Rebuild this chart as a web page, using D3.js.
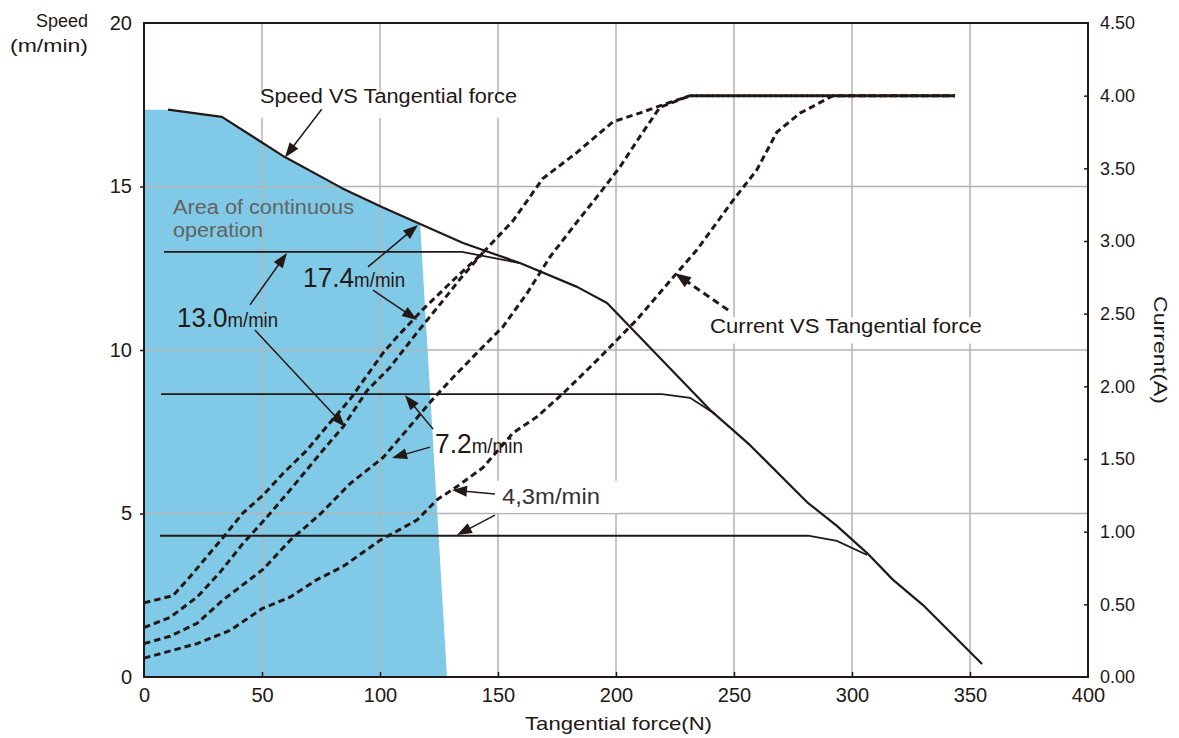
<!DOCTYPE html>
<html><head><meta charset="utf-8">
<script src="https://cdn.jsdelivr.net/npm/d3@7"></script>
<style>body{margin:0;background:#fff}svg{display:block}</style>
</head><body>
<svg id="c" width="1179" height="738"></svg>
<script>
const INK = "#231815";
const FONT = "'Liberation Sans', Arial, sans-serif";

// ---- axis ticks ----
const forceTicks = [0, 50, 100, 150, 200, 250, 300, 350, 400];
const speedTicks = [0, 5, 10, 15, 20];
const currentTicks = [0, 0.5, 1, 1.5, 2, 2.5, 3, 3.5, 4, 4.5];
const forceGrid = [50, 100, 150, 200, 250, 300, 350];
const speedGrid = [5, 10, 15];

// ---- speed vs tangential force (force N, speed m/min) ----
const speedCurve = [[10.2,17.35],[33,17.13],[59.7,15.9],[83.9,14.95],[100.8,14.37],[117,13.85],[135.2,13.27],[159.3,12.66],[183.5,11.93],[196.2,11.44],[239.8,8.17],[249.6,7.55],[256.8,7.09],[280.9,5.35],[293.6,4.62],[306.4,3.79],[317.4,2.97],[330.1,2.2],[355.1,0.4]];
const speed13 = [[8.5,13.0],[134.7,13.0],[159.3,12.66]];
const speed87 = [[7.2,8.65],[219.5,8.65],[231.4,8.54],[242,8.04]];
const speed43 = [[6.8,4.32],[281.4,4.32],[293.6,4.16],[306.4,3.73]];
const continuousArea = [[0,17.35],[10.2,17.35],[33,17.13],[59.7,15.9],[83.9,14.95],[100.8,14.37],[117,13.85],[128.4,0],[0,0]];

// ---- current vs tangential force (force N, current A) ----
const current174 = [[0,0.51],[12.3,0.56],[19.5,0.69],[33.5,0.96],[42,1.13],[50.4,1.25],[58.9,1.40],[69,1.56],[78.8,1.75],[87.3,1.91],[101.3,2.23],[107.2,2.34],[118.2,2.53],[131,2.73],[143.6,2.92],[156.4,3.14],[169,3.43],[183.5,3.61],[198.7,3.82],[210,3.88],[218.6,3.93],[231.4,4.0],[343.6,4.0]];
const current130 = [[0,0.34],[11,0.41],[22.5,0.55],[32.2,0.72],[42,0.92],[52.1,1.10],[63.1,1.31],[75.8,1.56],[84.3,1.72],[94.5,1.97],[104.2,2.13],[115.7,2.37],[126.7,2.59],[134,2.74],[143.6,2.92]];
const current72 = [[0,0.23],[11,0.28],[22.5,0.37],[33.5,0.53],[50.4,0.74],[61.9,0.94],[74.6,1.12],[87.3,1.33],[101.3,1.51],[111.4,1.70],[121.2,1.89],[129.7,2.04],[141.1,2.23],[152.1,2.41],[162.3,2.64],[172,2.89],[183.9,3.14],[193.2,3.33],[201.7,3.51],[210.2,3.72],[218.6,3.92],[231.4,4.0],[343.6,4.0]];
const current43 = [[0,0.13],[8,0.165],[22.5,0.23],[36.4,0.32],[50,0.47],[61.9,0.55],[73.3,0.67],[84.3,0.76],[100,0.94],[115.7,1.08],[124.2,1.22],[132.6,1.31],[143.6,1.44],[156.4,1.68],[166.5,1.79],[177.5,1.95],[192,2.18],[208.9,2.46],[225.8,2.78],[234.3,2.94],[249.6,3.28],[259.7,3.49],[268.2,3.75],[278,3.88],[292,4.0],[343.6,4.0]];

// ---- annotations (positions in force / speed units) ----
const arrows = [
  [[75.3,17.36],[59.7,15.89]],
  [[94.9,12.54],[116.1,13.82]],
  [[97.0,11.83],[115.7,10.92]],
  [[44.9,11.38],[60.6,12.97]],
  [[47.0,10.61],[85.2,7.65]],
  [[122.5,7.58],[110.6,8.62]],
  [[121.2,7.03],[105.1,6.70]],
  [[148.7,5.60],[130.5,5.72]],
  [[148.7,4.95],[132.6,4.34]]
];
const dashedArrows = [[[247.5,11.22],[225,12.35]]];
const speedLabels = [
  {num:"17.4", unit:"m/min", f:67.4, s:11.93, w:102},
  {num:"13.0", unit:"m/min", f:14.0, s:10.70, w:101},
  {num:"7.2",  unit:"m/min", f:123.3, s:6.85, w:88}
];

const svg = d3.select("#c");
const x = d3.scaleLinear().domain([0, 400]).range([144, 1088]);
const yS = d3.scaleLinear().domain([0, 20]).range([677, 23]);
const yC = d3.scaleLinear().domain([0, 4.5]).range([677, 23]);

// continuous area
svg.append("path").datum(continuousArea)
  .attr("d", d3.line().x(d => x(d[0])).y(d => yS(d[1])))
  .attr("fill", "#80cae7");

// grid
svg.append("g").selectAll("line").data(forceGrid).join("line")
  .attr("x1", d => x(d)).attr("x2", d => x(d)).attr("y1", yS(0)).attr("y2", yS(20))
  .attr("stroke", "#b2b4b4").attr("stroke-width", 1.5);
svg.append("g").selectAll("line").data(speedGrid).join("line")
  .attr("x1", x(0)).attr("x2", x(400)).attr("y1", d => yS(d)).attr("y2", d => yS(d))
  .attr("stroke", "#b2b4b4").attr("stroke-width", 1.5);

// label backgrounds
function bg(x0, y0, x1, y1) {
  svg.append("rect").attr("x", x0).attr("y", y0).attr("width", x1 - x0).attr("height", y1 - y0).attr("fill", "#fff");
}
bg(x(47.9), yS(17.85), x(159.3), yS(17.1));
bg(x(238), yS(11.0), x(357), yS(10.2));
bg(x(149.5), yS(6.0), x(201.7), yS(5.02));

// speed lines
const lineS = d3.line().x(d => x(d[0])).y(d => yS(d[1]));
svg.append("path").datum(speedCurve).attr("d", lineS).attr("fill", "none").attr("stroke", INK).attr("stroke-width", 2.2).attr("stroke-linejoin", "round");
[speed13, speed87, speed43].forEach(s =>
  svg.append("path").datum(s).attr("d", lineS).attr("fill", "none").attr("stroke", INK).attr("stroke-width", 1.8));

// current curves
const lineC = d3.line().x(d => x(d[0])).y(d => yC(d[1]));
[current174, current130, current72, current43].forEach(c =>
  svg.append("path").datum(c).attr("d", lineC).attr("fill", "none").attr("stroke", INK)
    .attr("stroke-width", 3).attr("stroke-dasharray", "6.5,4"));

// arrows
function arrow(a, dashed) {
  const x1 = x(a[0][0]), y1 = yS(a[0][1]), x2 = x(a[1][0]), y2 = yS(a[1][1]);
  const dx = x2 - x1, dy = y2 - y1, L = Math.hypot(dx, dy), ux = dx / L, uy = dy / L;
  const hl = dashed ? 16 : 15, hw = dashed ? 6 : 5.5;
  const bx = x2 - ux * hl, by = y2 - uy * hl;
  svg.append("line").attr("x1", x1).attr("y1", y1).attr("x2", bx + ux * 2).attr("y2", by + uy * 2)
    .attr("stroke", INK).attr("stroke-width", dashed ? 3 : 1.5)
    .attr("stroke-dasharray", dashed ? "7,4.5" : null);
  svg.append("polygon")
    .attr("points", [[x2, y2], [bx - uy * hw, by + ux * hw], [bx + uy * hw, by - ux * hw]].map(p => p.join(",")).join(" "))
    .attr("fill", INK);
}
arrows.forEach(a => arrow(a, false));
dashedArrows.forEach(a => arrow(a, true));

// text helper
function txt(t, px, py, size, opts = {}) {
  const e = svg.append("text").attr("x", px).attr("y", py).text(t)
    .attr("font-family", FONT).attr("font-size", size).attr("fill", opts.fill || INK)
    .attr("text-anchor", opts.anchor || "start");
  if (opts.len) e.attr("textLength", opts.len).attr("lengthAdjust", "spacingAndGlyphs");
  if (opts.transform) e.attr("transform", opts.transform);
  return e;
}
txt("Speed VS Tangential force", x(49.15), yS(17.55), 20, {len: 257});
txt("Current VS Tangential force", x(239.8), yS(10.52), 20, {len: 272});
txt("Area of continuous", x(12.29), yS(14.16), 20, {len: 181, fill: "#626262"});
txt("operation", x(12.29), yS(13.46), 20, {len: 90, fill: "#626262"});
speedLabels.forEach(l => {
  const t = svg.append("text").attr("x", x(l.f)).attr("y", yS(l.s))
    .attr("font-family", FONT).attr("fill", INK)
    .attr("textLength", l.w).attr("lengthAdjust", "spacingAndGlyphs");
  t.append("tspan").attr("font-size", 28).text(l.num);
  t.append("tspan").attr("font-size", 20).text(l.unit);
});
txt("4,3m/min", x(151.7), yS(5.29), 22, {len: 98, fill: "#333"});

// frame
svg.append("rect").attr("x", x(0)).attr("y", yS(20)).attr("width", x(400) - x(0)).attr("height", yS(0) - yS(20))
  .attr("fill", "none").attr("stroke", INK).attr("stroke-width", 2);

// axes
function styleAxis(g, size) {
  g.select(".domain").remove();
  g.attr("font-family", FONT).attr("font-size", size).attr("color", INK);
  g.selectAll("line").attr("stroke-width", 1.5);
}
const gL = svg.append("g").attr("transform", `translate(${x(0)},0)`)
  .call(d3.axisLeft(yS).tickValues(speedTicks).tickSize(4).tickSizeOuter(0).tickPadding(8));
styleAxis(gL, 20);
gL.selectAll(".tick").filter(d => d === 0 || d === 20).select("line").remove();

const gB = svg.append("g").attr("transform", `translate(0,${yS(0)})`)
  .call(d3.axisBottom(x).tickValues(forceTicks).tickSize(-5).tickSizeOuter(0).tickPadding(11));
styleAxis(gB, 20);
gB.selectAll(".tick").filter(d => d === 0 || d === 400).select("line").remove();

const gR = svg.append("g").attr("transform", `translate(${x(400)},0)`)
  .call(d3.axisRight(yC).tickValues(currentTicks).tickSize(-4).tickSizeOuter(0).tickPadding(12).tickFormat(d3.format(".2f")));
styleAxis(gR, 18);
gR.selectAll(".tick").filter(d => d === 0 || d === 4.5).select("line").remove();

// axis titles
txt("Speed", 88, 27, 18, {anchor: "end"});
txt("(m/min)", 88, 52, 18, {anchor: "end", len: 78});
txt("Tangential force(N)", 525, 730, 19, {len: 187});
txt("Current(A)", 0, 0, 19, {anchor: "middle", len: 108, transform: "translate(1154,350) rotate(90)"});
</script>
</body></html>
